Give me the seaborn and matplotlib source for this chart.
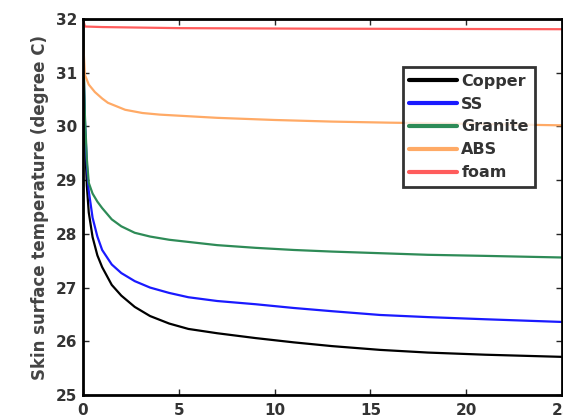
import numpy as np
import pandas as pd
import matplotlib
matplotlib.use("Agg")
import matplotlib.pyplot as plt
import seaborn as sns

# ---- data ----
materials = ["Copper", "SS", "Granite", "ABS", "foam"]
colors = ["#000000", "#1a1aff", "#2e8b57", "#ffaa66", "#ff5c5c"]

t_copper = [0, 0.05, 0.1, 0.2, 0.3, 0.5, 0.75, 1.0, 1.5, 2.0, 2.7, 3.5, 4.5, 5.5, 7, 9, 11, 13, 15.5, 18, 21, 25]
copper = [32, 30.6, 29.8, 28.9, 28.4, 27.94, 27.6, 27.38, 27.05, 26.85, 26.64, 26.47, 26.33, 26.23, 26.15, 26.06, 25.98, 25.91, 25.84, 25.79, 25.75, 25.71]

t_ss = [0, 0.05, 0.1, 0.2, 0.3, 0.5, 0.75, 1.0, 1.5, 2.0, 2.7, 3.5, 4.5, 5.5, 7, 9, 11, 13, 15.5, 18, 21, 25]
ss = [32, 30.8, 30.1, 29.3, 28.8, 28.3, 27.95, 27.7, 27.43, 27.27, 27.12, 27.0, 26.9, 26.82, 26.75, 26.69, 26.62, 26.56, 26.49, 26.45, 26.41, 26.36]

t_granite = [0, 0.05, 0.1, 0.2, 0.3, 0.5, 0.75, 1.0, 1.5, 2.0, 2.7, 3.5, 4.5, 5.5, 7, 9, 11, 13, 15.5, 18, 21, 25]
granite = [32, 31.0, 30.2, 29.4, 28.95, 28.75, 28.6, 28.48, 28.27, 28.14, 28.02, 27.95, 27.89, 27.85, 27.79, 27.74, 27.70, 27.67, 27.64, 27.61, 27.59, 27.56]

t_abs = [0, 0.02, 0.1, 0.3, 0.62, 1.0, 1.3, 2.2, 3.1, 4.0, 5.0, 7, 10, 13, 16, 20, 25]
abs_ = [32, 31.5, 30.96, 30.78, 30.64, 30.52, 30.44, 30.31, 30.25, 30.22, 30.2, 30.16, 30.12, 30.09, 30.07, 30.05, 30.02]

t_foam = [0, 0.1, 1, 5, 12, 25]
foam = [32, 31.86, 31.85, 31.83, 31.82, 31.81]

x_ticks = [0, 5, 10, 15, 20, 25]
y_ticks = [25, 26, 27, 28, 29, 30, 31, 32]
y_label = "Skin surface temperature (degree C)"

# ---- long-form table ----
frames = []
for name, tt, vv in zip(materials, [t_copper, t_ss, t_granite, t_abs, t_foam],
                        [copper, ss, granite, abs_, foam]):
    frames.append(pd.DataFrame({"time": tt, "temp": vv, "material": name}))
df = pd.concat(frames, ignore_index=True)

sns.set_style("ticks")
plt.rcParams["font.family"] = ["DejaVu Sans"]

fig = plt.figure(figsize=(5.63, 4.19), dpi=100)
ax = fig.add_axes([83 / 563, 1 - 395 / 419, (562 - 83) / 563, (395 - 19) / 419])

sns.lineplot(data=df, x="time", y="temp", hue="material", hue_order=materials,
             palette=dict(zip(materials, colors)), linewidth=1.6, ax=ax,
             estimator=None, sort=True)

ax.set_xlim(0, 25)
ax.set_ylim(25, 32)
ax.set_xticks(x_ticks)
ax.set_yticks(y_ticks)
ax.set_xlabel("")
ax.set_ylabel(y_label, fontsize=12, fontweight="bold", color="#444444", labelpad=5)
ax.tick_params(direction="in", length=4, width=1, top=True, right=True,
               labelsize=11, pad=4)
ax.tick_params(axis="x", pad=6)
for lab in ax.get_xticklabels() + ax.get_yticklabels():
    lab.set_fontweight("bold")
    lab.set_color("#333333")
for sp in ax.spines.values():
    sp.set_visible(True)
    sp.set_linewidth(2)
    sp.set_color("black")

leg = ax.legend(loc="upper right", bbox_to_anchor=(0.944, 0.872), borderaxespad=0,
                prop={"size": 11.5, "weight": "bold"}, frameon=True, fancybox=False,
                handlelength=3.0, labelspacing=0.5, handletextpad=0.25, borderpad=0.4)
leg.get_frame().set_edgecolor("black")
leg.get_frame().set_linewidth(2)
for txt in leg.get_texts():
    txt.set_color("#333333")
for line in leg.get_lines():
    line.set_linewidth(3)

fig.savefig("out.png", dpi=100)
